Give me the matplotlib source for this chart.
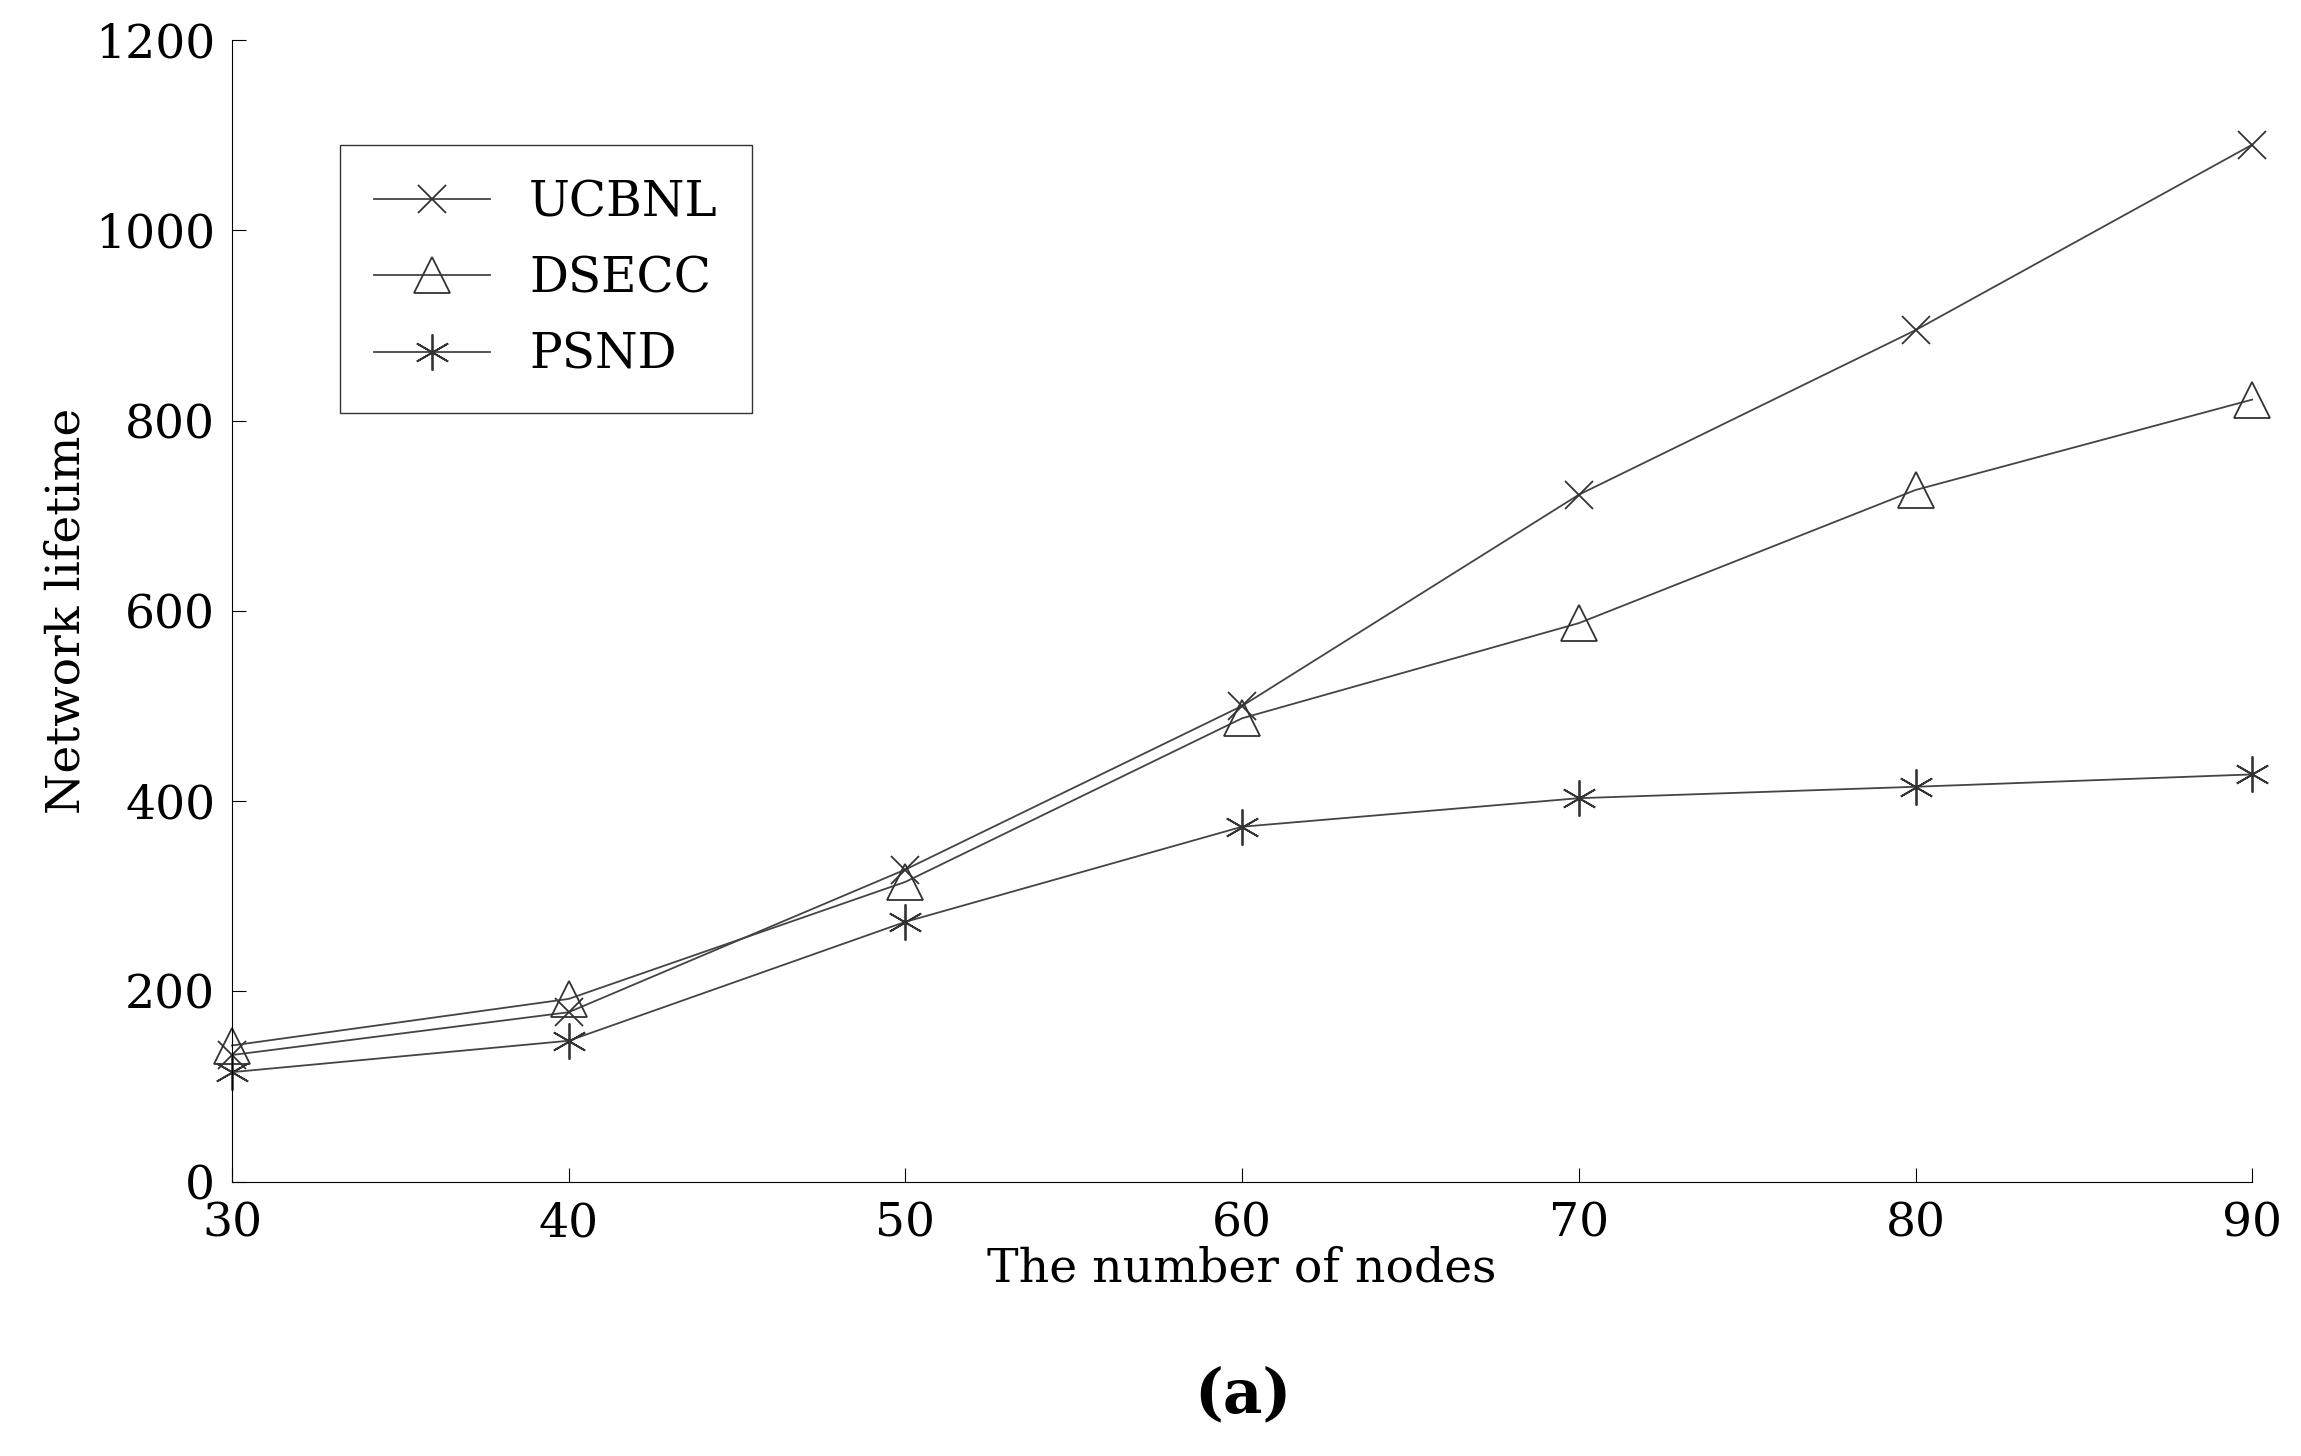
import matplotlib.pyplot as plt

nodes = [30, 40, 50, 60, 70, 80, 90]
ucbnl = [133, 178, 328, 500, 722, 895, 1090]
dsecc = [143, 192, 315, 487, 587, 727, 822]
psnd = [115, 148, 273, 373, 403, 415, 428]

plt.rcParams['font.family'] = ['DejaVu Serif']
fig = plt.figure(figsize=(23.01, 14.56), dpi=100)
ax = fig.add_axes([0.1008, 0.1885, 0.878, 0.784])

kw = dict(color='#444444', lw=1.3, markerfacecolor='none', markeredgecolor='#333333', clip_on=False)
ax.plot(nodes, ucbnl, marker='x', ms=20, mew=1.3, label='UCBNL', **kw)
ax.plot(nodes, dsecc, marker='^', ms=26, mew=1.3, label='DSECC', **kw)
ax.plot(nodes, psnd, marker=(6, 2, 0), ms=26, mew=1.3, label='PSND', **kw)

ax.set_xlim(30, 90)
ax.set_ylim(0, 1200)
ax.set_xticks(nodes)
ax.set_yticks(range(0, 1201, 200))
ax.spines['top'].set_visible(False)
ax.spines['right'].set_visible(False)
ax.tick_params(direction='in', length=10, labelsize=34)
ax.tick_params(axis='x', pad=14)
ax.tick_params(axis='y', pad=12)
ax.set_xlabel('The number of nodes', fontsize=34, labelpad=0)
ax.set_ylabel('Network lifetime', fontsize=34, labelpad=4)

leg = ax.legend(loc='upper left', bbox_to_anchor=(0.137, 0.917), bbox_transform=fig.transFigure,
                fontsize=35, frameon=True, fancybox=False, edgecolor='black',
                handlelength=2.4, borderpad=0.7, labelspacing=0.6)
leg.get_frame().set_linewidth(1.0)

fig.text(0.54, 0.03, '(a)', fontsize=44, fontweight='bold', ha='center')
fig.savefig('out.png', dpi=100)
